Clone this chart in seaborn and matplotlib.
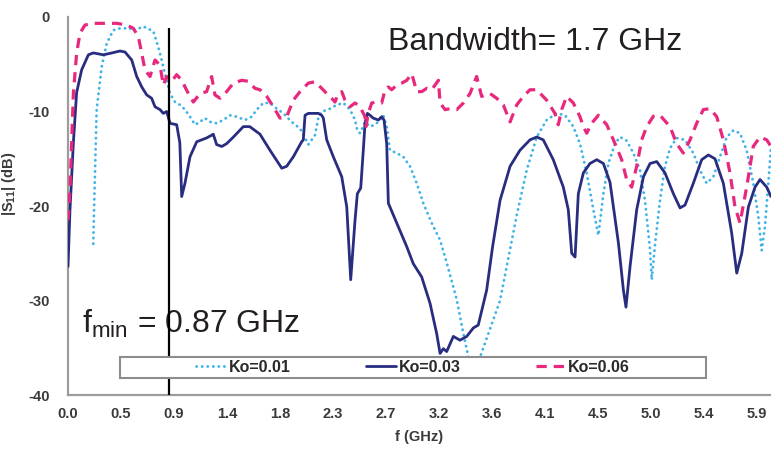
import matplotlib
matplotlib.use("Agg")
import matplotlib.pyplot as plt
from matplotlib.patches import Rectangle
import seaborn as sns
import pandas as pd

# --- reflection coefficient |S11| (dB) versus frequency (GHz) ---
f_ko001 = [0.217, 0.225, 0.246, 0.289, 0.332, 0.389, 0.446, 0.532, 0.558, 0.646, 0.732,
           0.761, 0.790, 0.818, 0.847, 0.876, 0.919, 0.962, 1.004, 1.047, 1.090, 1.133,
           1.176, 1.219, 1.276, 1.333, 1.390, 1.448, 1.520, 1.577, 1.620, 1.677, 1.734,
           1.792, 1.849, 1.920, 1.992, 2.035, 2.063, 2.092, 2.120, 2.149, 2.178, 2.235,
           2.307, 2.364, 2.421, 2.464, 2.484, 2.507, 2.550, 2.593, 2.636, 2.678, 2.707,
           2.736, 2.764, 2.822, 2.879, 2.936, 2.994, 3.050, 3.122, 3.194, 3.251, 3.337,
           3.394, 3.437, 3.480, 3.537, 3.623, 3.709, 3.766, 3.852, 3.938, 4.024, 4.109,
           4.195, 4.267, 4.338, 4.395, 4.453, 4.510, 4.553, 4.596, 4.639, 4.696, 4.739,
           4.797, 4.853, 4.910, 4.953, 4.996, 5.011, 5.040, 5.082, 5.125, 5.168, 5.225,
           5.297, 5.368, 5.425, 5.483, 5.540, 5.597, 5.655, 5.712, 5.769, 5.826, 5.883,
           5.926, 5.955, 5.983, 6.012, 6.035]
s_ko001 = [-24.0, -19.7, -9.8, -5.3, -2.8, -1.4, -1.2, -1.2, -1.5, -1.0, -1.5,
           -2.6, -3.85, -5.3, -6.7, -8.1, -9.0, -9.3, -9.8, -10.55, -11.4, -11.1,
           -10.7, -11.1, -11.25, -10.9, -10.4, -10.55, -10.9, -10.55, -9.8, -9.1, -9.1,
           -9.7, -10.2, -11.1, -11.8, -12.8, -13.5, -13.0, -12.5, -10.7, -10.0, -9.8,
           -9.3, -9.1, -9.8, -10.9, -12.0, -12.3, -11.1, -11.6, -11.4, -10.9, -10.4,
           -11.6, -14.1, -14.4, -14.8, -15.8, -17.6, -19.7, -21.8, -23.6, -26.0, -29.9,
           -33.5, -36.0, -36.8, -36.0, -33.0, -30.0, -26.4, -21.0, -16.2, -12.7, -10.9,
           -10.2, -10.4, -11.6, -13.4, -16.5, -20.4, -23.1, -18.7, -15.5, -13.4, -12.7,
           -13.1, -14.4, -16.2, -19.4, -24.5, -27.8, -24.0, -19.4, -15.8, -13.9, -12.8,
           -13.0, -14.4, -16.2, -17.6, -16.9, -14.8, -12.7, -12.0, -12.3, -14.1, -17.6,
           -21.1, -24.7, -22.2, -17.6, -13.7]

f_ko003 = [0.000, 0.017, 0.046, 0.074, 0.117, 0.175, 0.217, 0.260, 0.303, 0.360, 0.446,
           0.489, 0.547, 0.590, 0.633, 0.676, 0.718, 0.747, 0.790, 0.818, 0.847, 0.876,
           0.933, 0.960, 0.976, 1.004, 1.047, 1.105, 1.190, 1.234, 1.247, 1.276, 1.320,
           1.362, 1.420, 1.505, 1.560, 1.648, 1.734, 1.835, 1.877, 1.934, 2.006, 2.020,
           2.035, 2.063, 2.149, 2.178, 2.192, 2.221, 2.278, 2.350, 2.393, 2.427, 2.464,
           2.484, 2.513, 2.535, 2.550, 2.570, 2.593, 2.620, 2.664, 2.693, 2.713, 2.736,
           2.750, 2.822, 2.908, 2.964, 3.036, 3.108, 3.165, 3.194, 3.222, 3.251, 3.308,
           3.365, 3.423, 3.480, 3.522, 3.594, 3.645, 3.709, 3.795, 3.880, 3.966, 4.024,
           4.080, 4.166, 4.252, 4.295, 4.324, 4.353, 4.381, 4.424, 4.481, 4.539, 4.596,
           4.653, 4.725, 4.768, 4.790, 4.825, 4.882, 4.940, 4.997, 5.054, 5.125, 5.197,
           5.254, 5.297, 5.368, 5.440, 5.497, 5.554, 5.626, 5.698, 5.741, 5.784, 5.841,
           5.898, 5.941, 5.998, 6.035]
s_ko003 = [-26.4, -20.4, -13.3, -8.0, -5.6, -4.0, -3.8, -3.9, -4.0, -3.85, -3.6,
           -3.7, -4.55, -6.3, -7.4, -8.25, -8.6, -9.5, -9.8, -10.2, -10.0, -11.25,
           -11.4, -13.3, -19.0, -17.6, -14.8, -13.2, -12.8, -12.5, -12.4, -13.5, -13.7,
           -13.4, -12.7, -11.6, -11.6, -12.4, -14.1, -16.0, -15.8, -14.8, -13.2, -13.0,
           -10.4, -10.2, -10.2, -10.4, -10.7, -13.0, -14.8, -16.9, -20.1, -27.8, -21.5,
           -18.7, -18.1, -14.1, -11.25, -10.2, -10.4, -10.7, -10.9, -10.55, -10.9, -13.4,
           -19.7, -21.8, -24.3, -26.1, -27.5, -30.3, -33.5, -35.6, -35.1, -35.4, -33.8,
           -34.2, -33.8, -32.9, -32.6, -28.9, -24.3, -19.4, -15.8, -14.1, -13.0, -12.7,
           -13.0, -15.1, -18.0, -20.4, -25.0, -25.4, -18.7, -16.5, -15.5, -15.1, -15.5,
           -17.5, -23.9, -28.9, -30.7, -26.4, -20.4, -16.9, -15.5, -15.3, -16.5, -18.7,
           -20.2, -19.9, -17.6, -15.1, -14.6, -15.0, -17.6, -22.9, -27.1, -25.0, -20.1,
           -18.0, -17.2, -18.0, -19.0]

f_ko006 = [0.000, 0.017, 0.031, 0.046, 0.074, 0.103, 0.146, 0.217, 0.303, 0.418, 0.504,
           0.561, 0.604, 0.633, 0.661, 0.704, 0.747, 0.790, 0.818, 0.847, 0.890, 0.933,
           0.976, 1.033, 1.076, 1.133, 1.190, 1.233, 1.262, 1.305, 1.362, 1.419, 1.491,
           1.548, 1.605, 1.648, 1.706, 1.763, 1.820, 1.877, 1.934, 1.992, 2.063, 2.120,
           2.178, 2.221, 2.264, 2.292, 2.320, 2.350, 2.378, 2.421, 2.464, 2.507, 2.550,
           2.558, 2.578, 2.607, 2.650, 2.693, 2.722, 2.750, 2.779, 2.822, 2.865, 2.908,
           2.951, 2.994, 3.036, 3.080, 3.122, 3.180, 3.194, 3.237, 3.280, 3.337, 3.394,
           3.451, 3.508, 3.551, 3.623, 3.680, 3.737, 3.795, 3.852, 3.909, 3.966, 4.024,
           4.109, 4.180, 4.209, 4.238, 4.281, 4.338, 4.395, 4.424, 4.453, 4.495, 4.553,
           4.625, 4.696, 4.753, 4.796, 4.839, 4.882, 4.925, 4.968, 5.025, 5.082, 5.168,
           5.225, 5.282, 5.340, 5.397, 5.454, 5.511, 5.569, 5.626, 5.683, 5.726, 5.769,
           5.826, 5.883, 5.940, 5.998, 6.035]
s_ko006 = [-21.5, -18.3, -13.4, -8.1, -3.85, -1.7, -0.85, -0.67, -0.67, -0.67, -0.85,
           -1.2, -2.1, -3.85, -5.6, -6.3, -4.55, -5.1, -7.2, -6.3, -6.8, -6.1,
           -6.7, -8.1, -9.0, -8.1, -7.9, -6.3, -8.25, -8.6, -7.9, -7.0, -6.7,
           -6.8, -7.55, -7.7, -8.4, -9.5, -10.7, -10.55, -8.8, -7.9, -7.0, -6.85,
           -7.55, -8.1, -8.6, -9.0, -8.1, -7.9, -8.8, -9.5, -9.1, -9.5, -10.55,
           -11.6, -10.2, -9.1, -9.0, -9.1, -7.7, -7.4, -7.7, -7.2, -7.0, -6.7,
           -6.0, -7.9, -7.9, -7.55, -7.7, -6.7, -9.1, -9.8, -9.7, -9.8, -9.1,
           -8.1, -6.3, -8.4, -8.1, -8.6, -9.3, -11.1, -9.3, -8.4, -7.7, -7.7,
           -8.8, -10.2, -11.4, -9.8, -8.4, -9.1, -10.55, -11.6, -12.3, -11.25, -10.4,
           -11.4, -13.4, -15.1, -17.2, -18.0, -15.8, -13.0, -11.6, -10.5, -10.4, -11.6,
           -13.4, -14.4, -13.0, -11.25, -9.8, -9.7, -10.55, -13.0, -16.5, -20.1, -21.8,
           -18.0, -13.7, -12.7, -13.0, -13.7]

x_tick_labels = ["0.0", "0.5", "0.9", "1.4", "1.8", "2.3", "2.7",
                 "3.2", "3.6", "4.1", "4.5", "5.0", "5.4", "5.9"]
x_tick_step = 0.455          # GHz between category labels
y_ticks = [0, -10, -20, -30, -40]
f_min = 0.87                 # GHz, lower band edge
bandwidth = 1.7              # GHz

sns.set_style("white")
plt.rcParams["font.family"] = ["Liberation Sans", "DejaVu Sans"]
plt.rcParams["axes.unicode_minus"] = False
plt.rcParams["mathtext.fontset"] = "custom"
plt.rcParams["mathtext.rm"] = "Liberation Sans"
plt.rcParams["mathtext.bf"] = "Liberation Sans:bold"
plt.rcParams["mathtext.it"] = "Liberation Sans"

fig = plt.figure(figsize=(7.71, 4.49), dpi=100)
ax = fig.add_axes([68 / 771, 54 / 449, 703 / 771, 378 / 449])

series = [
    ("Ko=0.01", f_ko001, s_ko001, "#3db3e6", dict(lw=2.0, ls=(0, (0.1, 1.9)), dash_capstyle="round")),
    ("Ko=0.03", f_ko003, s_ko003, "#282d80", dict(lw=2.0, ls="-")),
    ("Ko=0.06", f_ko006, s_ko006, "#e8287c", dict(lw=2.3, ls=(0, (3.2, 2.2)))),
]
for name, fx, sy, col, style in series:
    df = pd.DataFrame({"f": fx, "s11": sy})
    sns.lineplot(data=df, x="f", y="s11", ax=ax, color=col, label=name,
                 linewidth=style["lw"], linestyle=style["ls"], sort=True,
                 estimator=None, zorder=3)
    if "dash_capstyle" in style:
        ax.lines[-1].set_dash_capstyle("round")

ax.set_xlim(0, 6.035)
ax.set_ylim(-40, 0)
xt = [i * x_tick_step for i in range(len(x_tick_labels))]
ax.set_xticks(xt)
ax.set_xticklabels(x_tick_labels)
ax.set_yticks(y_ticks)
ax.set_yticklabels([str(v) for v in y_ticks])

tick_col = "#3a3a3a"
for lab in ax.get_xticklabels() + ax.get_yticklabels():
    lab.set_fontweight("bold")
    lab.set_fontsize(10.5)
    lab.set_color(tick_col)
ax.tick_params(axis="x", length=0, pad=9)
ax.tick_params(axis="y", length=4, width=1.3, color="#9a9a9a", pad=9, direction="out")

for side in ("top", "right"):
    ax.spines[side].set_visible(False)
for side in ("left", "bottom"):
    ax.spines[side].set_color("#9c9c9c")
    ax.spines[side].set_linewidth(1.6)

ax.set_xlabel("f (GHz)", fontsize=10.5, fontweight="bold", color=tick_col, labelpad=6)
ax.set_ylabel(r"|$\mathbf{S_{11}}$| (dB)", fontsize=10.5, fontweight="bold", color=tick_col)
ax.yaxis.set_label_coords(-0.071, 0.558)

# lower band edge marker
ax.vlines(f_min, -40, -1.2, colors="black", linewidth=1.6, zorder=5)

ax.text(0.455, 0.9127, f"Bandwidth= {bandwidth} GHz", transform=ax.transAxes,
        fontsize=23, color="#231f20", va="baseline", ha="left")
ax.text(0.0199, 0.164, r"f$_{\mathrm{min}}$" + f" = {f_min} GHz", transform=ax.transAxes,
        fontsize=23, color="#231f20", va="baseline", ha="left", zorder=4)

# legend with a wide framed box
ax.add_patch(Rectangle((0.074, 0.045), 0.8335, 0.0555, transform=ax.transAxes,
                       facecolor="white", edgecolor="#8c8c8c", linewidth=1.5, zorder=6))
leg = ax.legend(loc="center", bbox_to_anchor=(0.491, 0.0728), ncol=3, frameon=False,
                handlelength=1.9, handletextpad=0.15, columnspacing=4.7,
                prop={"weight": "bold", "size": 11.5})
leg.set_zorder(7)
for t in leg.get_texts():
    t.set_color("#2a2a2a")

fig.savefig("out.png", dpi=100)
